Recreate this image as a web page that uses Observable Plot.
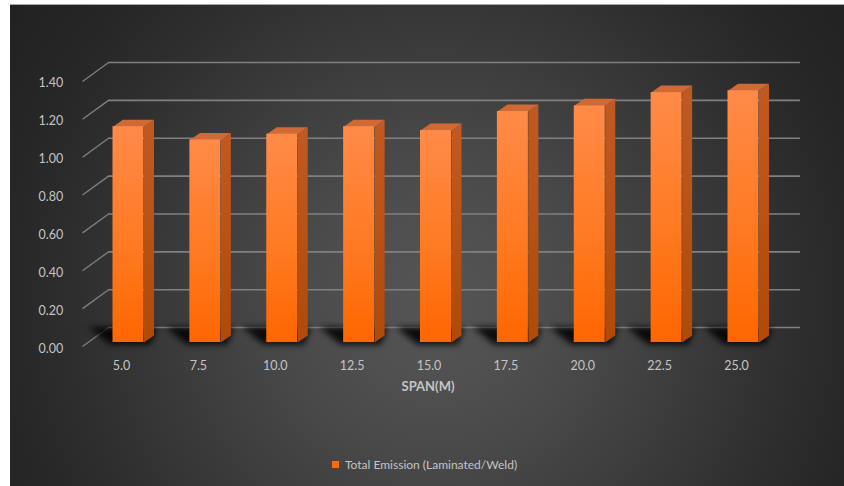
<!DOCTYPE html>
<html>
<head>
<meta charset="utf-8">
<script src="https://cdn.jsdelivr.net/npm/d3@7"></script>
<script src="https://cdn.jsdelivr.net/npm/@observablehq/plot@0.6"></script>
<style>
  html, body { margin: 0; padding: 0; background: #ffffff; }
  #wrap { position: relative; width: 844px; height: 486px; overflow: hidden; background: #ffffff; }
  #bg {
    position: absolute; left: 10px; top: 4px; width: 834px; height: 482px;
    border-top: 1px solid #a8a8a8; box-sizing: border-box;
    background: radial-gradient(circle at 425px 300px,
      #555555 0px, #4f4f4f 90px, #484848 160px, #3f3f3f 230px,
      #363636 300px, #2d2d2d 370px, #262626 440px, #212121 520px, #1d1d1d 620px);
  }
  #chart { position: absolute; left: 0; top: 0; }
  #legend {
    position: absolute; left: 332px; top: 457px; display: flex; align-items: center;
    font-family: Lato, "Open Sans", sans-serif; font-size: 12px; color: #c4c4c4;
  }
  #legend .sw { width: 7px; height: 7px; background: #ff6a0a; margin-right: 6px; }
</style>
</head>
<body>
<div id="wrap">
  <div id="bg"></div>
  <div id="chart"></div>
  <div id="legend"><span class="sw"></span><span id="legendText"></span></div>
</div>
<script>
// ---- data ----
const spans = [5.0, 7.5, 10.0, 12.5, 15.0, 17.5, 20.0, 22.5, 25.0];
const emissions = [1.14, 1.07, 1.10, 1.14, 1.12, 1.22, 1.25, 1.32, 1.33];
const yTicks = [0.0, 0.2, 0.4, 0.6, 0.8, 1.0, 1.2, 1.4];
const seriesName = "Total Emission (Laminated/Weld)";
const xTitle = "SPAN(M)";

document.getElementById("legendText").textContent = seriesName;

// ---- pseudo-3D geometry (in scale units) ----
const depthX = 0.846, depthY = 0.1;      // front plane -> back wall
const floorX1 = 3.70, backX2 = 27.05;    // floor front-left corner, back wall right end
const hw = 0.504;                         // half bar width
const bdx = 0.325, bdy = 0.037;           // bar depth
const barDx = 6, barDy = -4;              // bars sit slightly behind the front plane

const rows = spans.map((s, i) => ({span: s, value: emissions[i], k: i}));
const sideFaces = rows.flatMap(r => [
  {k: r.k, x: r.span + hw, y: 0},
  {k: r.k, x: r.span + hw + bdx, y: bdy},
  {k: r.k, x: r.span + hw + bdx, y: r.value + bdy},
  {k: r.k, x: r.span + hw, y: r.value}
]);
const topFaces = rows.flatMap(r => [
  {k: r.k, x: r.span - hw, y: r.value},
  {k: r.k, x: r.span + hw, y: r.value},
  {k: r.k, x: r.span + hw + bdx, y: r.value + bdy},
  {k: r.k, x: r.span - hw + bdx, y: r.value + bdy}
]);
const shadows = rows.flatMap(r => [
  {k: r.k, x: r.span - hw - 0.1, y: -0.01},
  {k: r.k, x: r.span + hw + 0.2, y: -0.01},
  {k: r.k, x: r.span + hw + bdx + 0.1, y: bdy + 0.045},
  {k: r.k, x: r.span - hw - 0.8, y: bdy + 0.045}
]);

function defs() {
  const d = d3.create("svg:defs");
  const g1 = d.append("linearGradient").attr("id", "gFront")
    .attr("x1", 0).attr("y1", 0).attr("x2", 0).attr("y2", 1);
  g1.append("stop").attr("offset", "0%").attr("stop-color", "#ff8a48");
  g1.append("stop").attr("offset", "55%").attr("stop-color", "#ff7a22");
  g1.append("stop").attr("offset", "100%").attr("stop-color", "#ff6600");
  const g2 = d.append("linearGradient").attr("id", "gSide")
    .attr("x1", 0).attr("y1", 0).attr("x2", 0).attr("y2", 1);
  g2.append("stop").attr("offset", "0%").attr("stop-color", "#c05a22");
  g2.append("stop").attr("offset", "100%").attr("stop-color", "#b04a08");
  return d.node();
}

const gridColor = "#808080";

const plot = Plot.plot({
  width: 844,
  height: 440,
  marginLeft: 29.75,
  marginRight: 14.75,
  marginTop: 62,
  marginBottom: 94,
  x: {type: "linear", domain: [2, 28]},
  y: {type: "linear", domain: [0, 1.5]},
  style: {fontFamily: "Lato, 'Open Sans', sans-serif", fontSize: "12px", color: "#c4c4c4", background: "transparent", overflow: "visible"},
  marks: [
    defs,
    // back wall gridlines
    Plot.ruleY(yTicks, {y: d => d + depthY, x1: floorX1 + depthX, x2: backX2, stroke: gridColor, strokeWidth: 1.6}),
    // side wall diagonals
    Plot.link(yTicks, {x1: floorX1, y1: d => d, x2: floorX1 + depthX, y2: d => d + depthY, stroke: gridColor, strokeWidth: 1.3}),
    // floor shadows
    Plot.line(shadows, {x: "x", y: "y", z: "k", fill: "#000000", fillOpacity: 0.85, stroke: "none", dx: barDx, dy: barDy, imageFilter: "blur(3px)"}),
    // bar side faces
    Plot.line(sideFaces, {x: "x", y: "y", z: "k", fill: "url(#gSide)", stroke: "none", dx: barDx, dy: barDy}),
    // bar top faces
    Plot.line(topFaces, {x: "x", y: "y", z: "k", fill: "#cf6a34", stroke: "none", dx: barDx, dy: barDy}),
    // bar front faces
    Plot.rectY(rows, {x1: d => d.span - hw, x2: d => d.span + hw, y1: 0, y2: "value", fill: "url(#gFront)", dx: barDx, dy: barDy}),
    // axes
    Plot.axisY(yTicks, {tickFormat: d => d.toFixed(2), tickSize: 0, dx: 42, dy: 2, label: null, fontSize: 12.5}),
    Plot.axisX(spans, {tickFormat: d => d.toFixed(1), tickSize: 0, dx: -1, dy: 6, label: null, fontSize: 12.5}),
    Plot.text([xTitle], {text: d => d, frameAnchor: "bottom", dx: -2, dy: 44, fontWeight: "bold", fontSize: 13})
  ]
});

document.getElementById("chart").appendChild(plot);
</script>
</body>
</html>
